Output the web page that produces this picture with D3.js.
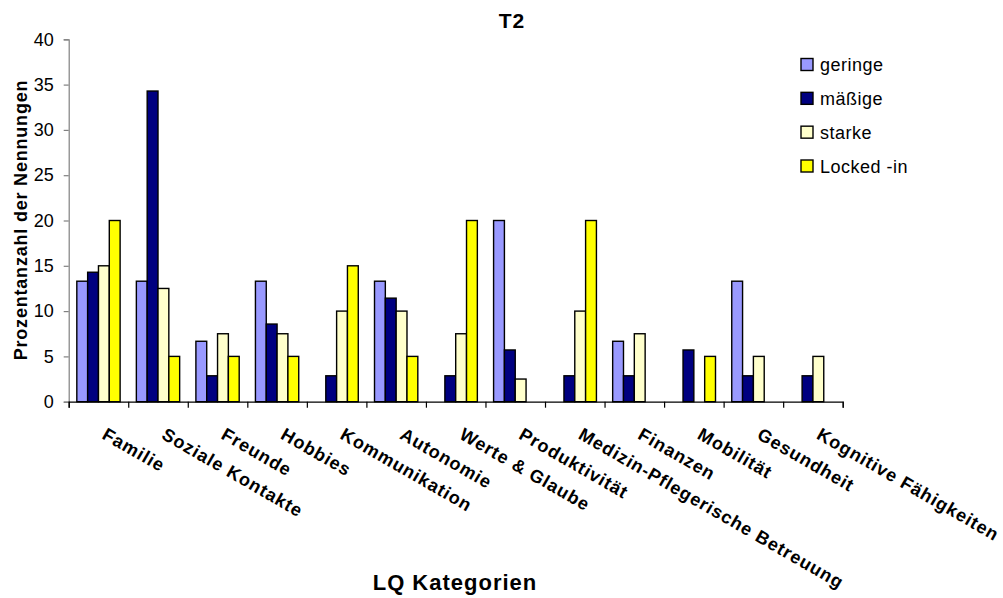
<!DOCTYPE html>
<html>
<head>
<meta charset="utf-8">
<script src="https://cdn.jsdelivr.net/npm/d3@7/dist/d3.min.js"></script>
<style>
  html, body { margin: 0; padding: 0; background: #fff; }
  svg { display: block; font-family: "Liberation Sans", Arial, sans-serif; }
</style>
</head>
<body>
<svg id="chart" width="1003" height="598"></svg>
<script>
const categories = ["Familie", "Soziale Kontakte", "Freunde", "Hobbies", "Kommunikation", "Autonomie",
  "Werte & Glaube", "Produktivität", "Medizin-Pflegerische Betreuung", "Finanzen", "Mobilität",
  "Gesundheit", "Kognitive Fähigkeiten"];
const seriesNames = ["geringe", "mäßige", "starke", "Locked -in"];
const geringe = [13.3, 13.3, 6.67, 13.3, 0, 13.3, 0, 20, 0, 6.67, 0, 13.3, 0];
const maessige = [14.29, 34.29, 2.86, 8.57, 2.86, 11.43, 2.86, 5.71, 2.86, 2.86, 5.71, 2.86, 2.86];
const starke = [15, 12.5, 7.5, 7.5, 10, 10, 7.5, 2.5, 10, 7.5, 0, 5, 5];
const lockedIn = [20, 5, 5, 5, 15, 5, 20, 0, 20, 0, 5, 0, 0];
const yTicks = [0, 5, 10, 15, 20, 25, 30, 35, 40];
const colors = ["#9999FF", "#000080", "#FFFFCC", "#FFFF00"];

const seriesValues = [geringe, maessige, starke, lockedIn];
const svg = d3.select("#chart");

const plot = { left: 68.7, right: 842.7, top: 39.3, bottom: 401.7 };

const x0 = d3.scaleBand().domain(categories).range([plot.left, plot.right]).paddingInner(0).paddingOuter(0);
const x1 = d3.scaleBand().domain(seriesNames).range([0, x0.bandwidth()]).paddingInner(0).paddingOuter(0.75);
const y = d3.scaleLinear().domain([0, 40]).range([plot.bottom, plot.top]);

// Bars
const groups = svg.append("g").selectAll("g")
  .data(categories)
  .join("g")
  .attr("transform", d => `translate(${x0(d)},0)`);

groups.selectAll("rect")
  .data((c, i) => seriesNames.map((s, j) => ({ s, j, v: seriesValues[j][i] })).filter(d => d.v > 0))
  .join("rect")
  .attr("x", d => x1(d.s))
  .attr("y", d => y(d.v))
  .attr("width", x1.bandwidth())
  .attr("height", d => plot.bottom - y(d.v))
  .attr("fill", d => colors[d.j])
  .attr("stroke", "#000")
  .attr("stroke-width", 1.4);

// Y axis
const yAxis = d3.axisLeft(y).tickValues(yTicks).tickSize(5).tickPadding(10);
const yg = svg.append("g").attr("transform", `translate(${plot.left},0)`).call(yAxis);
yg.select(".domain").attr("stroke", "#808080").attr("stroke-width", 1.2);
yg.selectAll(".tick line").attr("stroke", "#808080").attr("stroke-width", 1.2);
yg.selectAll(".tick text").attr("font-size", 18).attr("fill", "#000")
  .attr("font-family", "'Liberation Sans', Arial, sans-serif");

// X axis
const boundaries = d3.range(categories.length + 1);
const xb = d3.scaleLinear().domain([0, categories.length]).range([plot.left, plot.right]);
const xAxis = d3.axisBottom(xb).tickValues(boundaries).tickSize(6).tickFormat("");
const xg = svg.append("g").attr("transform", `translate(0,${plot.bottom})`).call(xAxis);
xg.select(".domain").attr("stroke", "#000").attr("stroke-width", 1.2);
xg.selectAll(".tick line").attr("stroke", "#000").attr("stroke-width", 1.2);

// Category labels
svg.append("g").selectAll("text")
  .data(categories)
  .join("text")
  .attr("transform", d => `translate(${x0(d) + x0.bandwidth() / 2 + 2.5},438) rotate(30)`)
  .attr("text-anchor", "start")
  .attr("font-size", 18)
  .attr("font-weight", "bold")
  .attr("letter-spacing", 0.95)
  .text(d => d);

// Title
svg.append("text").attr("x", 512).attr("y", 28).attr("text-anchor", "middle")
  .attr("font-size", 21).attr("font-weight", "bold").attr("letter-spacing", 1).text("T2");

// Axis titles
svg.append("text").attr("x", 455).attr("y", 590).attr("text-anchor", "middle")
  .attr("font-size", 22).attr("font-weight", "bold").attr("letter-spacing", 1).text("LQ Kategorien");
svg.append("text").attr("transform", "translate(26.5,220) rotate(-90)").attr("text-anchor", "middle")
  .attr("font-size", 18).attr("font-weight", "bold").attr("letter-spacing", 0.8).text("Prozentanzahl der Nennungen");

// Legend
const legend = svg.append("g").attr("transform", "translate(801,0)");
const ly = d3.scalePoint().domain(seriesNames).range([64.5, 166]);
const li = legend.selectAll("g").data(seriesNames).join("g")
  .attr("transform", d => `translate(0,${ly(d)})`);
li.append("rect").attr("x", 0).attr("y", -6).attr("width", 12).attr("height", 12)
  .attr("fill", (d, i) => colors[i]).attr("stroke", "#000").attr("stroke-width", 1.4);
li.append("text").attr("x", 19).attr("y", 6.5).attr("font-size", 18).attr("letter-spacing", 0.5).text(d => d);
</script>
</body>
</html>
